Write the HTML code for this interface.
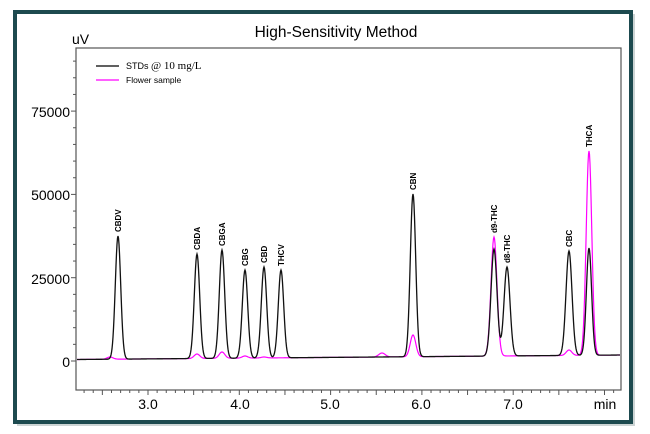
<!DOCTYPE html>
<html><head><style>
body{margin:0;background:#fff;}
svg{display:block;font-family:"Liberation Sans",Arial,sans-serif;}
</style></head><body>
<svg id="s" width="650" height="434" viewBox="0 0 650 434">
<rect x="17" y="14" width="618" height="412" fill="#9aa" opacity="0.5"/>
<rect x="15" y="12" width="616" height="410" fill="#fff" stroke="#1d4a4f" stroke-width="4"/>
<text x="336" y="37" font-size="15.5" text-anchor="middle">High-Sensitivity Method</text>
<text x="72" y="44" font-size="14">uV</text>
<rect x="76" y="48" width="545" height="342" fill="none" stroke="#555" stroke-width="1.2"/>
<g font-size="14" text-anchor="end">
<text x="70" y="117">75000</text><text x="70" y="200">50000</text><text x="70" y="284">25000</text><text x="70" y="367">0</text>
</g>
<g font-size="14" text-anchor="middle">
<text x="148" y="409">3.0</text><text x="240" y="409">4.0</text><text x="330" y="409">5.0</text><text x="421" y="409">6.0</text><text x="513" y="409">7.0</text><text x="605" y="409">min</text>
</g>
<line x1="96" y1="66" x2="119" y2="66" stroke="#000" stroke-width="1.3"/>
<line x1="96" y1="80" x2="119" y2="80" stroke="#f0f" stroke-width="1.3"/>
<text x="126" y="69" font-size="9">STDs <tspan font-family="Liberation Serif" font-size="11">@ 10 mg/L</tspan></text>
<text x="126" y="83" font-size="8.5">Flower sample</text>
<g id="ticks" stroke="#555" stroke-width="1"></g>
<path id="pk" fill="none" stroke="#f0f" stroke-width="1.2"/>
<path id="bk" fill="none" stroke="#111" stroke-width="1.3"/>
<g id="lb" font-size="8" font-weight="bold"></g>
</svg>
<script>
var t='';
for(var v=0;v<=95000;v+=5000){var y=361-v*83.3/25000;if(y<48)break;t+='<line x1="'+(v%25000?73:71)+'" y1="'+y+'" x2="76" y2="'+y+'"/>';}
for(var m=2.3;m<=8.25;m+=0.1){var x=148+(m-3)*91.3;if(x<77||x>620)continue;var maj=Math.abs(m*2-Math.round(m*2))<0.01;t+='<line x1="'+x+'" y1="390" x2="'+x+'" y2="'+(maj?395:393)+'"/>';}
document.getElementById('ticks').innerHTML=t;
var B=[[118,236,2.7],[197,254,2.7],[222,250,2.7],[245,270,2.7],[264,267,2.7],[281,270,2.7],[413,194,2.7],[494,249,3],[507,267,3],[569,251,3],[589,248,2.6]];
var P=[[197,354,2.8],[222,352,2.8],[245,356,2.8],[264,357,2.8],[382,353,3.2],[413,335,2.8],[494,237,3],[569,350,2.8],[589,151,2.8],[110,357,3]];
function base(x){return 359.5-(x-76)*4.5/545;}
function mk(L){var d='';for(var x=77;x<=620;x+=0.5){var b=base(x),y=b;L.forEach(function(p){var h=b-p[1];y-=h*Math.exp(-Math.pow(x-p[0],2)/(2*p[2]*p[2]));});d+=(d?'L':'M')+x+' '+y.toFixed(2);}return d;}
document.getElementById('pk').setAttribute('d',mk(P));
document.getElementById('bk').setAttribute('d',mk(B));
var lab=[['CBDV',118,232],['CBDA',197,250],['CBGA',222,246],['CBG',245,266],['CBD',264,263],['THCV',281,266],['CBN',413,190],['d9-THC',494,233],['d8-THC',507,263],['CBC',569,247],['THCA',589,147]];
var h='';lab.forEach(function(l){h+='<text transform="translate('+(l[1]+3)+','+l[2]+') rotate(-90)">'+l[0]+'</text>';});
document.getElementById('lb').innerHTML=h;
</script>
</body></html>
